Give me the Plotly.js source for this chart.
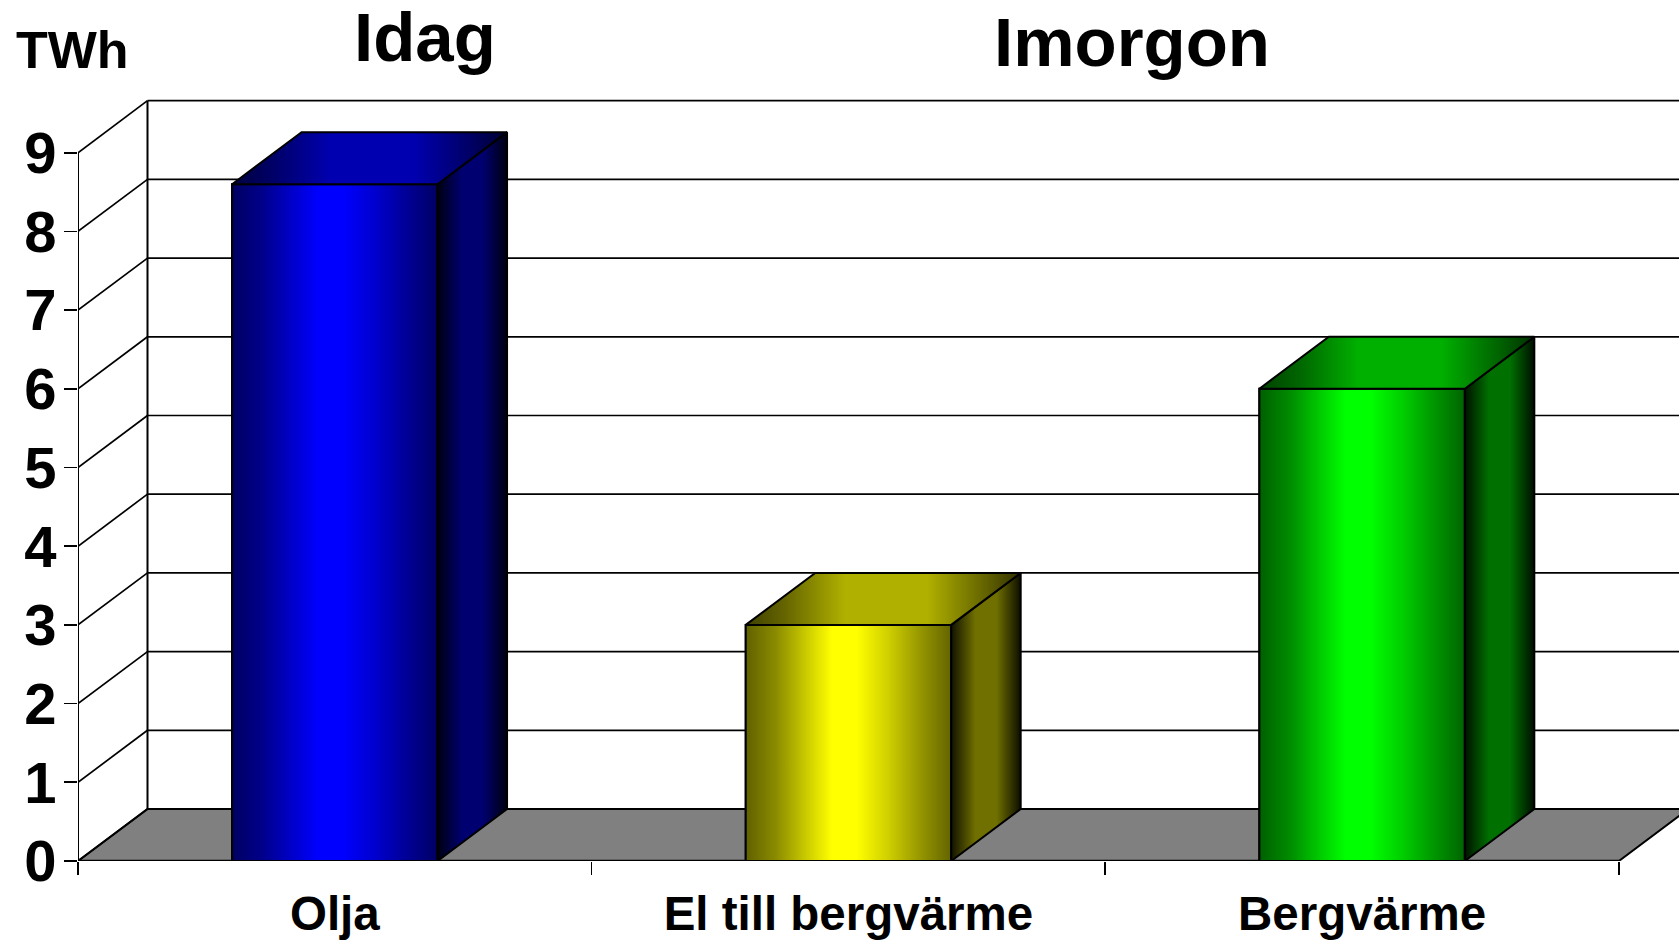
<!DOCTYPE html>
<html>
<head>
<meta charset="utf-8">
<script src="https://cdn.plot.ly/plotly-3.0.1.min.js"></script>
<style>html,body{margin:0;padding:0;background:#fff;overflow:hidden}</style>
</head>
<body>
<div id="chart" style="width:1679px;height:940px"></div>
<script>
const categories = ['Olja', 'El till bergvärme', 'Bergvärme'];
const values = [8.6, 3.0, 6.0];
const yTicks = [0, 1, 2, 3, 4, 5, 6, 7, 8, 9];
const catEdges = [-0.5, 0.5, 1.5, 2.5];
const barHue = [[0, 0, 1], [1, 1, 0], [0, 1, 0]];
const frontStops = [[0, 96], [0.15, 140], [0.3, 205], [0.42, 255], [0.54, 255], [0.7, 205], [0.85, 150], [1, 100]];
const sideStops = [[0, 18], [0.35, 112], [0.65, 112], [1, 14]];
const topStops = [[0, 64], [0.14, 100], [0.36, 176], [0.66, 176], [0.88, 96], [1, 48]];

const halfBar = 0.2, dx = 0.1353, dy = 0.661;
const L = 77.5, B = 861, T = 91, W = 1679, H = 940, catPx = 513.8, valPx = 78.7;
const xEnd = -0.5 + (W - L) / catPx, yEnd = (B - T) / valPx;
const ink = {color: '#000', width: 2};
const thin = {color: '#000', width: 1.7};

function seg(x0, y0, x1, y1, line) {
  return {type: 'line', xref: 'x', yref: 'y', layer: 'below', x0, y0, x1, y1, line: line || thin};
}
const shapes = [];
shapes.push({type: 'path', xref: 'x', yref: 'y', layer: 'below',
  path: `M ${-0.5} 0 L 2.5 0 L ${2.5 + dx} ${dy} L ${-0.5 + dx} ${dy} Z`,
  fillcolor: '#808080', line: ink});
yTicks.forEach(v => {
  shapes.push(seg(-0.5, v, -0.5 + dx, v + dy));
  if (v > 0) shapes.push(seg(-0.5 + dx, v + dy, xEnd + 1, v + dy));
});
shapes.push(seg(-0.5, 0, -0.5, 9, ink));
shapes.push(seg(-0.5 + dx, dy, -0.5 + dx, 9 + dy, ink));
shapes.push(seg(-0.5, 0, 2.5, 0, {color: '#000', width: 2.5}));

function scale(stops, hue) {
  return stops.map(([p, level]) => [p, `rgb(${hue[0] * level},${hue[1] * level},${hue[2] * level})`]);
}
function face(xs, ys, stops, hue) {
  return {type: 'scatter', mode: 'lines', x: xs, y: ys, fill: 'toself',
    fillgradient: {type: 'horizontal', colorscale: scale(stops, hue),
      start: Math.min(...xs), stop: Math.max(...xs)},
    line: ink, hoverinfo: 'skip', showlegend: false};
}
const traces = [{type: 'bar', x: [0, 1, 2], y: values, width: 2 * halfBar,
  marker: {color: barHue.map(h => `rgb(${h[0] * 255},${h[1] * 255},${h[2] * 255})`), line: ink},
  hoverinfo: 'x+y', showlegend: false}];
values.forEach((v, i) => {
  const a = i - halfBar, b = i + halfBar;
  traces.push(face([a, b, b, a, a], [0, 0, v, v, 0], frontStops, barHue[i]));
  traces.push(face([b, b + dx, b + dx, b, b], [0, dy, v + dy, v, 0], sideStops, barHue[i]));
  traces.push(face([a, b, b + dx, a + dx, a], [v, v, v + dy, v + dy, v], topStops, barHue[i]));
});

const font = 'Liberation Sans, Arial, sans-serif';
function px(x) { return (x - L) / (W - L); }
function py(y) { return (B - y) / (B - T); }
function label(text, x, y, size) {
  return {text: `<b>${text}</b>`, xref: 'paper', yref: 'paper', x: px(x), y: py(y),
    xanchor: 'center', yanchor: 'middle', showarrow: false,
    font: {family: font, size, color: '#000'}};
}
const layout = {
  width: W, height: H,
  margin: {l: L, r: 0, t: T, b: H - B, pad: 0},
  paper_bgcolor: '#fff', plot_bgcolor: '#fff',
  showlegend: false, bargap: 0.6, hovermode: 'closest',
  font: {family: font, color: '#000'},
  xaxis: {range: [-0.5, xEnd], tickmode: 'array', tickvals: [0, 1, 2],
    ticktext: categories.map(c => `<b>${c}</b>`), tickangle: 0, ticks: '',
    tickfont: {family: font, size: 47.5, color: '#000'}, ticklabelstandoff: 20,
    showgrid: false, zeroline: false, showline: false,
    minor: {tickmode: 'array', tickvals: catEdges, ticks: 'outside', ticklen: 13, tickwidth: 1.7, tickcolor: '#000', showgrid: false}},
  yaxis: {range: [0, yEnd], tickmode: 'array', tickvals: yTicks,
    ticktext: yTicks.map(v => `<b>${v}</b>`),
    ticks: 'outside', ticklen: 13, tickwidth: 1.7, tickcolor: '#000',
    tickfont: {family: font, size: 58, color: '#000'}, ticklabelstandoff: -4,
    showgrid: false, zeroline: false, showline: false},
  shapes,
  annotations: [
    label('TWh', 72, 50, 52),
    label('Idag', 425, 38, 69),
    label('Imorgon', 1132, 43, 69)
  ]
};
Plotly.newPlot('chart', traces, layout, {staticPlot: true, displayModeBar: false});
</script>
</body>
</html>
